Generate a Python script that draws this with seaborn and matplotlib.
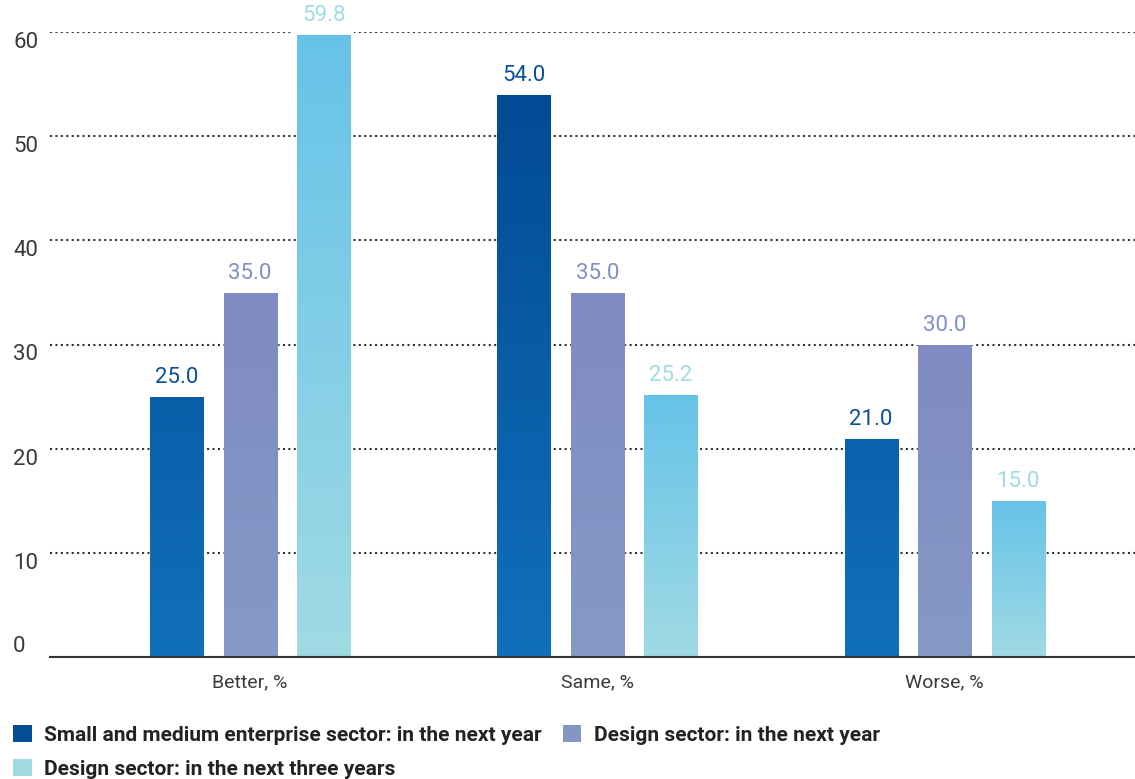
import numpy as np
import pandas as pd
import matplotlib
matplotlib.use("Agg")
import matplotlib.pyplot as plt
from matplotlib.colors import LinearSegmentedColormap, to_rgb
from matplotlib.patches import Patch
import seaborn as sns

# Outlook data (percent of respondents)
categories = ["Better, %", "Same, %", "Worse, %"]
series = [
    "Small and medium enterprise sector: in the next year",
    "Design sector: in the next year",
    "Design sector: in the next three years",
]
sme_next_year = [25.0, 54.0, 21.0]
design_next_year = [35.0, 35.0, 30.0]
design_three_years = [59.8, 25.2, 15.0]
y_ticks = [0, 10, 20, 30, 40, 50, 60]

df = pd.DataFrame({
    "category": categories * 3,
    "series": [series[0]] * 3 + [series[1]] * 3 + [series[2]] * 3,
    "value": sme_next_year + design_next_year + design_three_years,
})

# (top colour, bottom colour, gradient mode) per series
gradients = [
    ("#014690", "#1170ba", "data"),   # spans the full 0-60 range
    ("#7f8bc2", "#8699c7", "bar"),    # spans each bar
    ("#66c3e8", "#a0dae4", "bar"),
]
label_colors = ["#0b4f95", "#8090c4", "#a0dbe6"]
legend_colors = ["#034e95", "#8396c6", "#a0dae3"]

sns.set_theme(style="white")
plt.rcParams["font.family"] = ["Roboto", "DejaVu Sans"]

fig = plt.figure(figsize=(11.35, 7.79), dpi=100)
ax = fig.add_axes([50 / 1135, 1 - 657 / 779, 1 - 50 / 1135, (657 - 32) / 779])

sns.barplot(data=df, x="category", y="value", hue="series", hue_order=series,
            order=categories, width=0.636, gap=0.28, palette=legend_colors,
            legend=False, ax=ax, zorder=3, saturation=1)

ax.set_ylim(0, 60)
ax.set_xlim(-0.576, 2.548)

# Gradient fills clipped to each bar
ymax = 60.0
for cont, (top, bot, mode), lc in zip(ax.containers, gradients, label_colors):
    cmap = LinearSegmentedColormap.from_list("g", [to_rgb(bot), to_rgb(top)])
    for p in cont.patches:
        x0, w, h = p.get_x(), p.get_width(), p.get_height()
        if mode == "data":
            grad = np.linspace(0, h / ymax, 256).reshape(-1, 1)
        else:
            grad = np.linspace(0, 1, 256).reshape(-1, 1)
        im = ax.imshow(grad, cmap=cmap, vmin=0, vmax=1, origin="lower",
                       extent=[x0, x0 + w, 0, h], aspect="auto", zorder=4,
                       interpolation="bilinear")
        im.set_clip_path(p)
    ax.bar_label(cont, fmt="%.1f", padding=6, color=lc, fontsize=16,
                 zorder=6, clip_on=False,
                 bbox=dict(boxstyle="square,pad=0.4", fc="white", ec="none"))

ax.set_xlim(-0.576, 2.548)
ax.set_ylim(0, 60)

# Dotted gridlines, solid baseline
ax.set_yticks(y_ticks)
ax.yaxis.grid(True, linestyle=(0, (1, 1.6)), color="#333333", linewidth=1.5, zorder=1)
ax.set_axisbelow(True)
for s in ["top", "right", "left"]:
    ax.spines[s].set_visible(False)
ax.spines["bottom"].set_color("#333333")
ax.spines["bottom"].set_linewidth(1.5)
ax.spines["bottom"].set_zorder(5)

ax.tick_params(axis="y", length=0, pad=26.5, labelsize=16, labelcolor="#3a3a3a")
ax.tick_params(axis="x", length=0, pad=12, labelsize=14, labelcolor="#3a3a3a")
for lab, t in zip(ax.get_yticklabels(), y_ticks):
    lab.set_horizontalalignment("left")
    lab.set_verticalalignment("bottom" if t == 0 else "top")
ax.set_xlabel("")
ax.set_ylabel("")

handles = [Patch(facecolor=c, edgecolor="none") for c in legend_colors]
order = [0, 2, 1]
fig.legend([handles[i] for i in order], [series[i] for i in order],
           loc="upper left", bbox_to_anchor=(13 / 1135, 1 - 725 / 779),
           ncol=2, frameon=False, borderpad=0, borderaxespad=0,
           handlelength=0.9, handleheight=0.9, handletextpad=0.6,
           columnspacing=1.0, labelspacing=0.68,
           prop=dict(family=["Roboto", "DejaVu Sans"], size=15, weight="semibold"),
           labelcolor="#222222")

fig.savefig("out.png", dpi=100)
